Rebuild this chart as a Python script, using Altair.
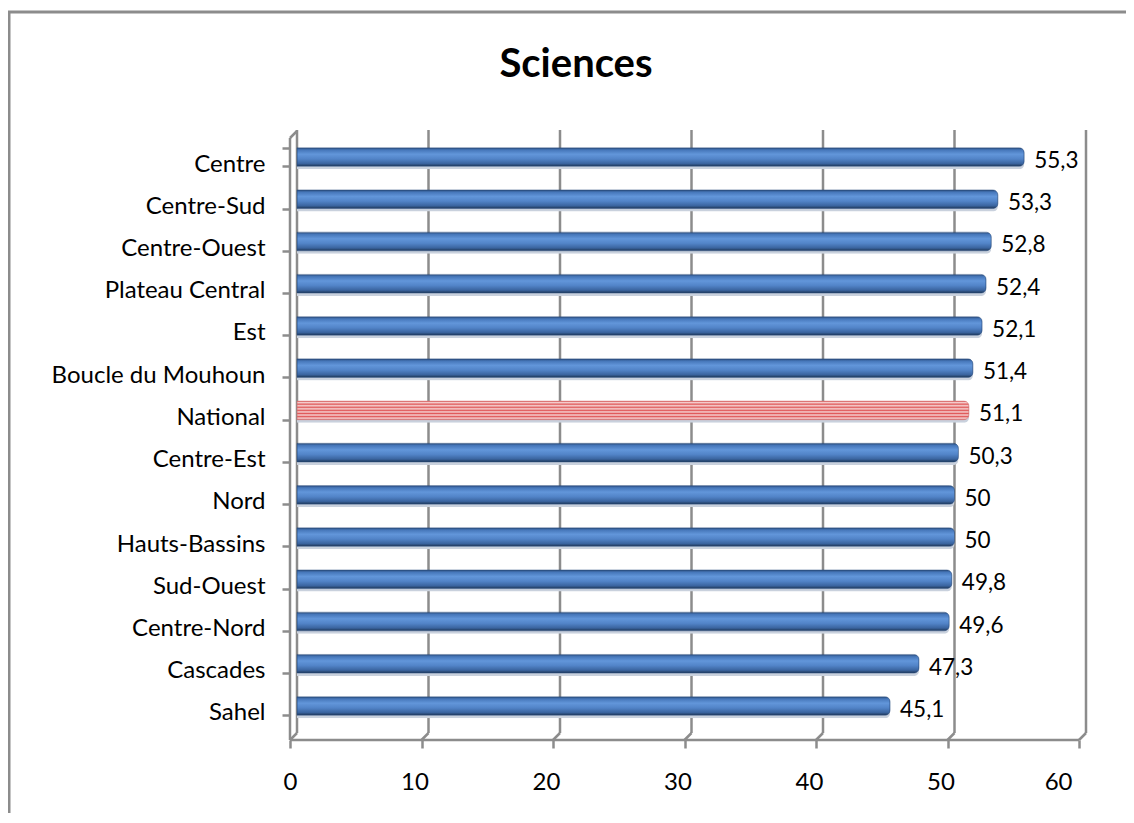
import altair as alt
import pandas as pd

regions = ["Centre", "Centre-Sud", "Centre-Ouest", "Plateau Central", "Est",
           "Boucle du Mouhoun", "National", "Centre-Est", "Nord", "Hauts-Bassins",
           "Sud-Ouest", "Centre-Nord", "Cascades", "Sahel"]
values = [55.3, 53.3, 52.8, 52.4, 52.1, 51.4, 51.1, 50.3, 50, 50, 49.8, 49.6, 47.3, 45.1]
ticks = [0, 10, 20, 30, 40, 50, 60]
title_text = ["Sciences"]

df = pd.DataFrame({"region": regions, "value": values,
                   "national": [r == "National" for r in regions]})
tick_df = pd.DataFrame({"t": ticks})

FONT = "Lato"
W, H = 789, 603
GRID = "#8C8C8C"
AXFS = 24

xscale = alt.Scale(domain=[0, 60], nice=False)
yscale = alt.Scale(domain=regions, paddingInner=0.56, paddingOuter=0.42)

blue_grad = alt.Gradient(
    gradient="linear", x1=0, y1=0, x2=0, y2=1,
    stops=[alt.GradientStop(color="#2A4C7C", offset=0),
           alt.GradientStop(color="#4677BA", offset=0.12),
           alt.GradientStop(color="#6296DA", offset=0.35),
           alt.GradientStop(color="#5284C8", offset=0.6),
           alt.GradientStop(color="#3A649F", offset=0.85),
           alt.GradientStop(color="#1E3656", offset=1)])

red_stops = []
n = 12
for i in range(n + 1):
    red_stops.append(alt.GradientStop(color="#E05A5A" if i % 2 == 0 else "#F6D6D6",
                                      offset=i / n))
red_grad = alt.Gradient(gradient="linear", x1=0, y1=0, x2=0, y2=1, stops=red_stops)

base = alt.Chart(df)

# back-plane gridlines
grid = alt.Chart(tick_df).mark_rule(color=GRID, strokeWidth=2.5).encode(
    x=alt.X("t:Q", scale=xscale,
            axis=alt.Axis(values=ticks, domain=False, grid=False, title=None,
                          tickColor=GRID, tickWidth=2.5, tickSize=8, tickOffset=-7,
                          labelOffset=-7, offset=7, labelPadding=22,
                          labelFont=FONT, labelFontSize=AXFS, labelColor="#000")),
    y=alt.value(0), y2=alt.value(H))

# floor diagonals
diag = alt.Chart(tick_df).mark_rule(color=GRID, strokeWidth=2.5, x2Offset=-7).encode(
    x=alt.X("t:Q", scale=xscale), x2="t:Q",
    y=alt.value(H), y2=alt.value(H + 7))

# front x axis line
floor = alt.Chart(pd.DataFrame({"a": [0], "b": [60]})).mark_rule(
    color=GRID, strokeWidth=2.5, xOffset=-7, x2Offset=-7).encode(
    x=alt.X("a:Q", scale=xscale), x2="b:Q",
    y=alt.value(H + 7))

# left front wall line + top diagonal
left_line = alt.Chart(pd.DataFrame({"a": [0]})).mark_rule(
    color=GRID, strokeWidth=2.5).encode(
    x=alt.value(-7), y=alt.value(8), y2=alt.value(H + 7))
left_diag = alt.Chart(pd.DataFrame({"a": [0]})).mark_rule(
    color=GRID, strokeWidth=2.5).encode(
    x=alt.value(-7), x2=alt.value(0), y=alt.value(8), y2=alt.value(1))

shadow = base.mark_bar(color="#C9D1DD", yOffset=3, cornerRadiusEnd=5).encode(
    x=alt.X("value:Q", scale=xscale),
    y=alt.Y("region:N", scale=yscale, sort=regions))

bars = base.transform_filter("!datum.national").mark_bar(
    fill=blue_grad, cornerRadiusEnd=5, stroke="#2A4C7C", strokeWidth=0.5).encode(
    x=alt.X("value:Q", scale=xscale),
    y=alt.Y("region:N", scale=yscale, sort=regions,
            axis=alt.Axis(title=None, domain=False, ticks=True, tickBand="extent",
                          tickColor=GRID, tickWidth=2.5, tickSize=8, tickOffset=7,
                          labelOffset=7, offset=7, labelPadding=17, labelLimit=400,
                          labelFont=FONT, labelFontSize=AXFS, labelColor="#000")))

nat = base.transform_filter("datum.national").mark_bar(
    fill=red_grad, cornerRadiusEnd=5, stroke="#D07070", strokeWidth=0.5).encode(
    x=alt.X("value:Q", scale=xscale),
    y=alt.Y("region:N", scale=yscale, sort=regions))

labels = base.transform_calculate(
    lab="replace(toString(datum.value), '.', ',')").mark_text(
    align="left", baseline="middle", dx=10, dy=4, font=FONT, fontSize=22.5,
    color="#000").encode(
    x=alt.X("value:Q", scale=xscale),
    y=alt.Y("region:N", scale=yscale, sort=regions),
    text="lab:N")

title = alt.Chart(pd.DataFrame({"title": title_text})).mark_text(
    font=FONT, fontSize=40, fontWeight="bold", color="#000",
    align="center", baseline="alphabetic").encode(
    x=alt.value(279), y=alt.value(-53), text="title:N")

border = alt.Chart(pd.DataFrame({"a": [0]})).mark_rect(
    fill=None, stroke="#8C8C8C", strokeWidth=3).encode(
    x=alt.value(-288), x2=alt.value(900), y=alt.value(-118), y2=alt.value(760))

chart = alt.layer(border, grid, diag, floor, left_line, left_diag, shadow, bars, nat,
                  labels, title).properties(
    width=W, height=H,
    autosize=alt.AutoSizeParams(type="none"),
    padding={"left": 289, "top": 122, "right": 40, "bottom": 80},
).configure_view(stroke=None).resolve_scale(x="shared", y="shared")

chart.save("out.html", embed_options={"renderer": "svg", "actions": False})
